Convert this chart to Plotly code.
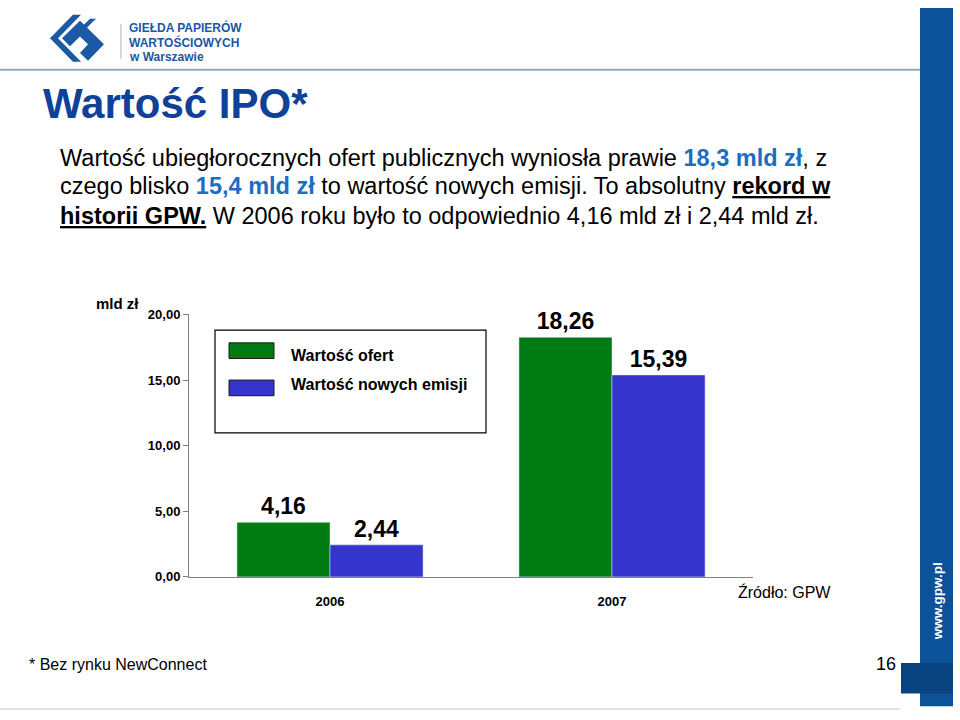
import plotly.graph_objects as go

# ---- data ----
years = ["2006", "2007"]
series_names = ["Wartość ofert", "Wartość nowych emisji"]
wartosc_ofert = [4.16, 18.26]
wartosc_nowych_emisji = [2.44, 15.39]
ofert_labels = ["4,16", "18,26"]
emisji_labels = ["2,44", "15,39"]
y_tickvals = [0, 5, 10, 15, 20]
y_ticktext = ["0,00", "5,00", "10,00", "15,00", "20,00"]

GREEN = "#007A12"
BLUE = "#3535CC"
TITLE_BLUE = "#0F4199"
HL_BLUE = "#1C6EC4"
FONT = "Arial, Liberation Sans, sans-serif"

W, H = 960, 720


def px(x):
    return x / W


def py(y):
    return 1 - y / H


fig = go.Figure()
fig.add_trace(go.Bar(
    x=years, y=wartosc_ofert, name=series_names[0], marker_color=GREEN,
    text=ofert_labels, textposition="outside", cliponaxis=False,
    textfont=dict(family=FONT, size=23, color="black", weight="bold"),
))
fig.add_trace(go.Bar(
    x=years, y=wartosc_nowych_emisji, name=series_names[1], marker_color=BLUE,
    text=emisji_labels, textposition="outside", cliponaxis=False,
    textfont=dict(family=FONT, size=23, color="black", weight="bold"),
))

shapes = []
annotations = []

# header line & logo separator
shapes.append(dict(type="line", xref="paper", yref="paper", x0=0, x1=px(920),
                   y0=py(64), y1=py(64), line=dict(color="#8EA6BE", width=2)))
shapes.append(dict(type="line", xref="paper", yref="paper", x0=px(121), x1=px(121),
                   y0=py(17), y1=py(53), line=dict(color="#B0B0B0", width=1)))
shapes.append(dict(type="line", xref="paper", yref="paper", x0=0, x1=px(900),
                   y0=py(717), y1=py(717), line=dict(color="#E4E4E4", width=2)))

# logo icon (approximation)
logo_paths = [
    "M 50 32 L 73 8 L 81 8 L 58 32 L 81 56 L 73 56 Z",
    "M 62 32 L 80 14 L 104 38 L 88 55 L 80 47 L 88 38 L 80 30 L 70 40 Z",
    "M 80 22 L 90 12 L 96 12 L 86 22 Z",
]
for p in logo_paths:
    pts = p.replace("M", "").replace("Z", "").split("L")
    path = ""
    for i, pt in enumerate(pts):
        a, b = pt.split()
        path += ("M " if i == 0 else " L ") + f"{px(float(a)):.4f},{py(float(b)):.4f}"
    path += " Z"
    shapes.append(dict(type="path", xref="paper", yref="paper", path=path,
                       fillcolor="#1B58A5", line=dict(width=0)))

# right blue stripe
shapes.append(dict(type="rect", xref="paper", yref="paper", x0=px(920), x1=px(953),
                   y0=py(714), y1=py(1), fillcolor="#0B5299", line=dict(width=0), layer="below"))
shapes.append(dict(type="rect", xref="paper", yref="paper", x0=px(901), x1=px(953),
                   y0=py(701), y1=py(670), fillcolor="#08437F", line=dict(width=0)))

# legend box (manual)
shapes.append(dict(type="rect", xref="paper", yref="paper", x0=px(215), x1=px(486),
                   y0=py(435), y1=py(330), fillcolor="white",
                   line=dict(color="black", width=1.2)))
legend_colors = [GREEN, BLUE]
legend_swatch_y = [351, 389]
legend_text_y = [356, 386]
for name, col, sy, ty in zip(series_names, legend_colors, legend_swatch_y, legend_text_y):
    shapes.append(dict(type="rect", xref="paper", yref="paper", x0=px(229), x1=px(274),
                       y0=py(sy + 8), y1=py(sy - 8), fillcolor=col,
                       line=dict(color="#1a1a1a", width=1)))
    annotations.append(dict(text=f"<b>{name}</b>", xref="paper", yref="paper",
                            x=px(289), y=py(ty), xanchor="left", yanchor="middle",
                            showarrow=False, font=dict(family=FONT, size=16, color="black")))

# logo text
logo_lines = [("GIEŁDA PAPIERÓW", 21), ("WARTOŚCIOWYCH", 36), ("w Warszawie", 51)]
for t, yy in logo_lines:
    annotations.append(dict(text=f"<b>{t}</b>", xref="paper", yref="paper",
                            x=px(127), y=py(yy), xanchor="left", yanchor="middle",
                            showarrow=False, font=dict(family=FONT, size=12, color="#1B58A5")))

# title
annotations.append(dict(text="<b>Wartość IPO*</b>", xref="paper", yref="paper",
                        x=px(41), y=py(99), xanchor="left", yanchor="middle",
                        showarrow=False, font=dict(family=FONT, size=42, color=TITLE_BLUE)))

# paragraph
UL = '<span style="text-decoration:underline">'
para = [
    (f'Wartość ubiegłorocznych ofert publicznych wyniosła prawie <b><span style="color:{HL_BLUE}">18,3 mld zł</span></b>, z', 154),
    (f'czego blisko <b><span style="color:{HL_BLUE}">15,4 mld zł</span></b> to wartość nowych emisji. To absolutny {UL}<b>rekord w</b></span>', 183),
    (f'{UL}<b>historii GPW.</b></span> W 2006 roku było to odpowiednio 4,16 mld zł i 2,44 mld zł.', 213),
]
for t, yy in para:
    annotations.append(dict(text=t, xref="paper", yref="paper", x=px(58), y=py(yy),
                            xanchor="left", yanchor="middle", showarrow=False,
                            font=dict(family=FONT, size=23.5, color="black")))

# axis unit
annotations.append(dict(text="<b>mld zł</b>", xref="paper", yref="paper", x=px(141), y=py(303),
                        xanchor="right", yanchor="middle", showarrow=False,
                        font=dict(family=FONT, size=15, color="black")))
# source
annotations.append(dict(text="Źródło: GPW", xref="paper", yref="paper", x=px(736), y=py(597),
                        xanchor="left", yanchor="middle", showarrow=False,
                        font=dict(family=FONT, size=16, color="black")))
# footnote
annotations.append(dict(text="* Bez rynku NewConnect", xref="paper", yref="paper", x=px(27), y=py(671),
                        xanchor="left", yanchor="middle", showarrow=False,
                        font=dict(family=FONT, size=16, color="black")))
# page number
annotations.append(dict(text="16", xref="paper", yref="paper", x=px(898), y=py(671),
                        xanchor="right", yanchor="middle", showarrow=False,
                        font=dict(family=FONT, size=18, color="black")))
# www.gpw.pl vertical
annotations.append(dict(text="<b>www.gpw.pl</b>", xref="paper", yref="paper", x=px(937), y=py(607),
                        xanchor="center", yanchor="middle", showarrow=False, textangle=-90,
                        font=dict(family=FONT, size=13.5, color="white")))

fig.update_layout(
    width=W, height=H,
    margin=dict(l=0, r=0, t=0, b=0),
    paper_bgcolor="white", plot_bgcolor="white",
    barmode="group", bargap=0.34, bargroupgap=0,
    showlegend=False,
    font=dict(family=FONT, color="black"),
    xaxis=dict(domain=[px(189), px(753)], showline=True, linecolor="#808080", linewidth=1,
               ticks="", showgrid=False, tickfont=dict(family=FONT, size=13, color="black", weight="bold"),
               ticklabelstandoff=13),
    yaxis=dict(domain=[py(582), py(314)], range=[0, 20], tickvals=y_tickvals, ticktext=y_ticktext,
               showline=True, linecolor="#808080", linewidth=1, ticks="outside", ticklen=5,
               tickcolor="#808080", showgrid=False, zeroline=False,
               tickfont=dict(family=FONT, size=13, color="black", weight="bold")),
    shapes=shapes,
    annotations=annotations,
)

fig.write_html("out.html")
